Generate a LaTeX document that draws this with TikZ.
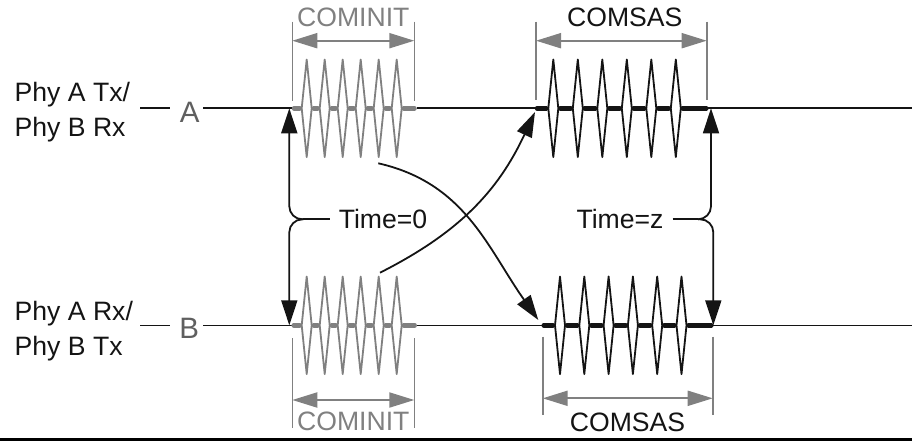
\documentclass[tikz,border=0pt]{standalone}
\usepackage{fontspec}
\setmainfont{Liberation Sans}
\usetikzlibrary{arrows.meta}
\definecolor{ink}{RGB}{20,20,20}
\definecolor{midgray}{RGB}{128,128,128}
\definecolor{lblgray}{RGB}{95,95,95}
\tikzset{
  sig/.style={draw=ink, line width=1.6pt},
  burstline/.style={line width=1.8pt, line join=round},
  idle/.style={line width=4.5pt, line cap=round, shorten >=2pt, shorten <=2pt},
  bigarrow/.style={draw=ink, line width=1.8pt, -{Triangle[length=25pt,width=16pt]}},
  bracearrow/.style={draw=ink, line width=1.8pt, rounded corners=13pt, -{Triangle[length=25pt,width=16pt]}},
  braceline/.style={draw=ink, line width=1.8pt},
  dimarrow/.style={draw=midgray, line width=2pt, {Triangle[length=25pt,width=15pt]}-{Triangle[length=25pt,width=15pt]}},
  extline/.style={draw=midgray, line width=1.6pt},
  lbl/.style={font=\fontsize{26.6pt}{30pt}\selectfont, text=ink, inner sep=0pt},
  graylbl/.style={lbl, text=midgray},
  letter/.style={font=\fontsize{29.5pt}{32pt}\selectfont, text=lblgray, inner sep=0pt},
}
\newcommand{\drawburst}[6]{%
  \foreach \k in {0,...,5}{
    \draw[burstline, draw=#6] ({#2+\k*#3},{#5-48.8}) -- ({#2+\k*#3-5},#5) -- ({#2+\k*#3},{#5+48.8}) -- ({#2+\k*#3+5},#5) -- cycle;
  }
  \draw[idle, draw=#6] (#1,#5) -- ({#2-5},#5);
  \foreach \k in {0,...,4}{
    \draw[idle, draw=#6] ({#2+\k*#3+5},#5) -- ({#2+(\k+1)*#3-5},#5);
  }
  \draw[idle, draw=#6] ({#2+5*#3+5},#5) -- (#4,#5);
}
\begin{document}
\begin{tikzpicture}[x=1pt,y=-1pt]
\useasboundingbox (0,0) rectangle (912,441);

% left labels
\node[lbl, anchor=base west] (pa1) at (14.5,101.7) {Phy A Tx/};
\node[lbl, anchor=base west] (pa2) at (14.5,136.7) {Phy B Rx};
\node[lbl, anchor=base west] (pb1) at (14.5,320.0) {Phy A Rx/};
\node[lbl, anchor=base west] (pb2) at (14.5,355.0) {Phy B Tx};
\node[letter] (la) at (189.7,112.5) {A};
\node[letter] (lb) at (189.3,328.7) {B};

% signal line A
\coordinate (a0) at (140,108.3);
\coordinate (a1) at (170,108.3);
\coordinate (a2) at (203,108.3);
\coordinate (a3) at (292,108.3);
\coordinate (a4) at (416.5,108.3);
\coordinate (a5) at (535,108.3);
\coordinate (a6) at (708.3,108.3);
\coordinate (a7) at (912,108.3);
\draw[sig] (a0) -- (a1);
\draw[sig] (a2) -- (a3);
\draw[sig] (a4) -- (a5);
\draw[sig] (a6) -- (a7);

% signal line B
\coordinate (b0) at (140,325.3);
\coordinate (b1) at (170,325.3);
\coordinate (b2) at (203,325.3);
\coordinate (b3) at (291.7,325.3);
\coordinate (b4) at (416.7,325.3);
\coordinate (b5) at (541.7,325.3);
\coordinate (b6) at (713.3,325.3);
\coordinate (b7) at (912,325.3);
\draw[sig] (b0) -- (b1);
\draw[sig] (b2) -- (b3);
\draw[sig] (b4) -- (b5);
\draw[sig] (b6) -- (b7);

% bursts
\drawburst{292}{306.7}{18}{416.5}{108.3}{midgray}
\drawburst{535}{553.3}{24.5}{708.3}{108.3}{ink}
\drawburst{291.7}{306.7}{18}{416.7}{325.3}{midgray}
\drawburst{541.7}{560}{24.3}{713.3}{325.3}{ink}

% dimension marks, top
\node[graylbl] (cit) at (353.3,17.5) {COMINIT};
\node[lbl] (cst) at (624.8,17.5) {COMSAS};
\coordinate (cit1a) at (292.3,21.7); \coordinate (cit1b) at (292.3,101);
\coordinate (cit2a) at (414.3,21.7); \coordinate (cit2b) at (414.3,101);
\draw[extline] (cit1a) -- (cit1b);
\draw[extline] (cit2a) -- (cit2b);
\coordinate (citL) at (292.3,40.7); \coordinate (citR) at (414.3,40.7);
\draw[dimarrow] (citL) -- (citR);
\coordinate (cst1a) at (536,21.7); \coordinate (cst1b) at (536,100);
\coordinate (cst2a) at (706.7,21.7); \coordinate (cst2b) at (706.7,100);
\draw[extline] (cst1a) -- (cst1b);
\draw[extline] (cst2a) -- (cst2b);
\coordinate (cstL) at (536,40.7); \coordinate (cstR) at (706.7,40.7);
\draw[dimarrow] (cstL) -- (cstR);

% dimension marks, bottom
\node[graylbl] (cib) at (353.3,421.7) {COMINIT};
\node[lbl] (csb) at (627.5,422.5) {COMSAS};
\coordinate (cib1a) at (292.3,338.3); \coordinate (cib1b) at (292.3,428.3);
\coordinate (cib2a) at (414.3,338.3); \coordinate (cib2b) at (414.3,428.3);
\draw[extline] (cib1a) -- (cib1b);
\draw[extline] (cib2a) -- (cib2b);
\coordinate (cibL) at (292.3,400); \coordinate (cibR) at (414.3,400);
\draw[dimarrow] (cibL) -- (cibR);
\coordinate (csb1a) at (542.7,336.7); \coordinate (csb1b) at (542.7,415);
\coordinate (csb2a) at (712.7,336.7); \coordinate (csb2b) at (712.7,415);
\draw[extline] (csb1a) -- (csb1b);
\draw[extline] (csb2a) -- (csb2b);
\coordinate (csbL) at (542.7,398.3); \coordinate (csbR) at (712.7,398.3);
\draw[dimarrow] (csbL) -- (csbR);

% time braces
\node[lbl, inner xsep=9pt] (t0) at (383,219.3) {Time=0};
\node[lbl, inner xsep=9pt] (tz) at (620,219.3) {Time=z};
\coordinate (tip0) at (303.3,219.3);
\coordinate (top0) at (289.3,108.3);
\coordinate (bot0) at (289.3,325.3);
\draw[braceline] (tip0) -- (t0.west);
\draw[bracearrow] (tip0) -| (top0);
\draw[bracearrow] (tip0) -| (bot0);
\coordinate (tipz) at (698,219.3);
\coordinate (topz) at (711,108.3);
\coordinate (botz) at (713.3,325.3);
\draw[braceline] (tz.east) -- (tipz);
\draw[bracearrow] (tipz) -| (topz);
\draw[bracearrow] (tipz) -| (botz);

% crossing arrows
\coordinate (c1s) at (378.3,163.3);
\coordinate (c1e) at (538.3,320);
\draw[bigarrow] (c1s) .. controls (465,183) and (487.5,247.9) .. (c1e);
\coordinate (c2s) at (380,272.7);
\coordinate (c2e) at (535,112);
\draw[bigarrow] (c2s) .. controls (458.4,233) and (497.8,191.7) .. (c2e);

% bottom rule
\fill[black] (0,437.6) rectangle (912,441);
\end{tikzpicture}
\end{document}
